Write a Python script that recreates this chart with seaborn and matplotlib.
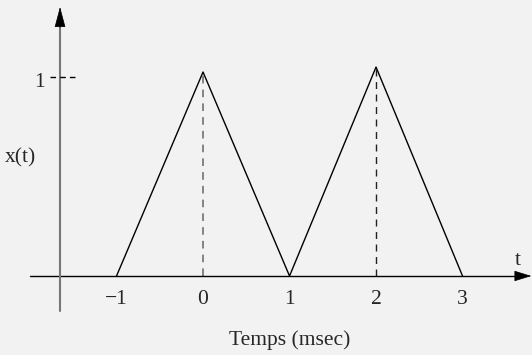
import seaborn as sns
import matplotlib.pyplot as plt
import pandas as pd

# signal x(t): two triangles
T_VALUES = [-1, 0, 1, 2, 3]
X_VALUES = [0, 1.025, 0, 1.05, 0]
PEAK_T = [0, 2]
PEAK_X = [1.025, 1.05]
TICK_POS = [-1, 0, 1, 2, 3]
TICK_LABELS = ["\u22121", "0", "1", "2", "3"]

BG = "#f2f2f2"

sns.set_style("white")
plt.rcParams["font.family"] = ["Liberation Serif", "DejaVu Serif"]

fig = plt.figure(figsize=(5.32, 3.55), dpi=100, facecolor=BG)
ax = fig.add_axes([0, 0, 1, 1])
ax.set_facecolor(BG)
ax.set_xlim(-2.347, 3.803)
ax.set_ylim(-0.397, 1.387)
ax.axis("off")

df = pd.DataFrame({"t": T_VALUES, "x": X_VALUES})
sns.lineplot(data=df, x="t", y="x", ax=ax, sort=False, estimator=None,
             color="black", lw=1.0)

# dashed guides under the peaks
ax.plot([PEAK_T[0]] * 2, [0, PEAK_X[0]], color="#666666", lw=1.1, dashes=(5, 4))
ax.plot([PEAK_T[1]] * 2, [0, PEAK_X[1]], color="#222222", lw=1.0, dashes=(5, 4))

# x axis with arrow
ax.plot([-2.0, 3.7], [0, 0], color="black", lw=1.0)
ax.annotate("", xy=(3.795, 0), xytext=(3.68, 0),
            arrowprops=dict(arrowstyle="-|>,head_length=0.55,head_width=0.17",
                            color="black", lw=0.5,
                            mutation_scale=20, shrinkA=0, shrinkB=0))
# y axis (grey line, black head)
ax.plot([-1.653, -1.653], [-0.176, 1.28], color="#777777", lw=1.5)
ax.annotate("", xy=(-1.653, 1.352), xytext=(-1.653, 1.25),
            arrowprops=dict(arrowstyle="-|>,head_length=0.6,head_width=0.16",
                            color="black", lw=0.5,
                            mutation_scale=22, shrinkA=0, shrinkB=0))

# tick "1" on y axis
ax.plot([-1.77, -1.47], [1.0, 1.0], color="black", lw=1.0, dashes=(4, 3))
ax.text(-1.83, 0.97, "1", ha="right", va="center", fontsize=15.5)

for pos, lab in zip(TICK_POS, TICK_LABELS):
    ax.text(pos, -0.12, lab, ha="center", va="center", fontsize=15.5)

ax.text(-2.116, 0.595, "x(t)", ha="center", va="center", fontsize=15.5)
ax.text(3.64, 0.08, "t", ha="center", va="center", fontsize=15.5)
ax.text(1.0, -0.322, "Temps (msec)", ha="center", va="center", fontsize=15.5)

fig.savefig("out.png", dpi=100, facecolor=BG)
